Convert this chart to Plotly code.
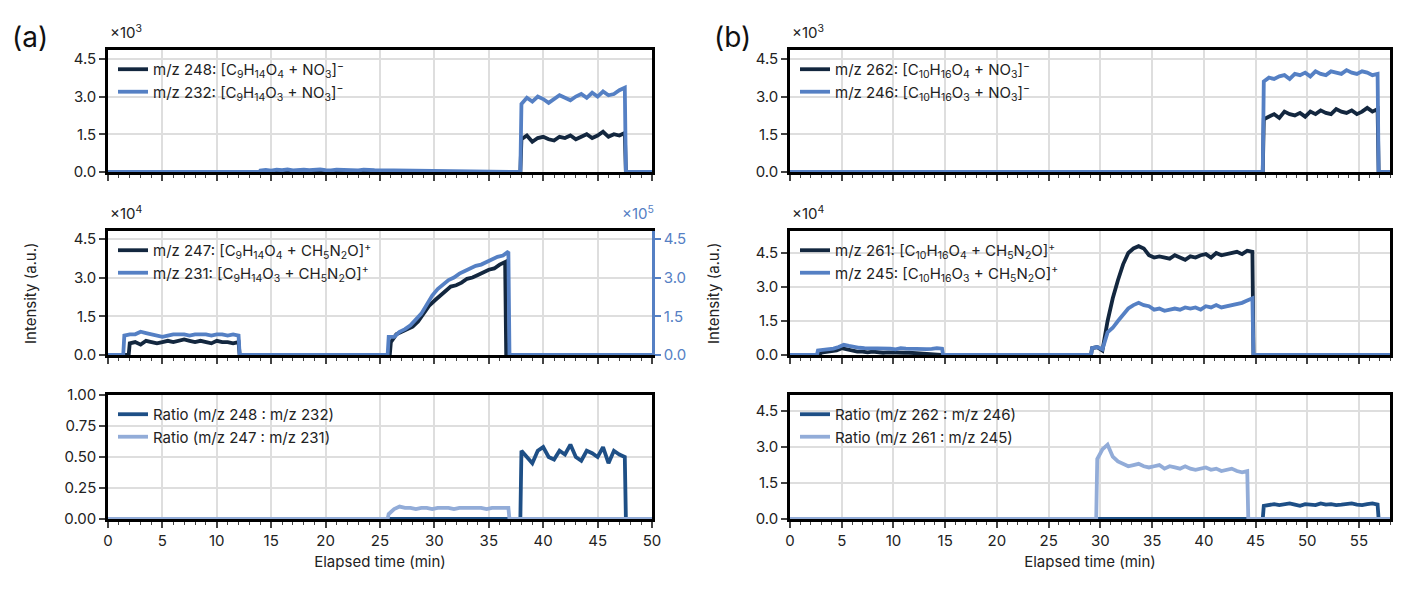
import numpy as np
import plotly.graph_objects as go

# ---------------- data ----------------
# (a) top: x10^3
a_top_dark_t0 = 38.0
a_top_dark = [1.3,1.45,1.2,1.35,1.4,1.3,1.25,1.4,1.35,1.45,1.3,1.4,1.5,1.35,1.45,1.6,1.4,1.5,1.45,1.55]
a_top_blue_t0 = 38.0
a_top_blue = [2.7,2.95,2.8,3.0,2.9,2.75,2.9,3.05,2.95,2.85,3.0,3.1,2.95,3.15,3.0,3.2,3.05,3.1,3.25,3.35]
a_top_blip_t0 = 14.0
a_top_blip = [0.06,0.08,0.05,0.09,0.07,0.1,0.06,0.08,0.09,0.07,0.08,0.1,0.07,0.06,0.09,0.08,0.07,0.08,0.06,0.09,0.08,0.07]

# (a) middle: dark x10^4 (left), blue x10^5 (right)
a_mid_dark_t0a = 2.0
a_mid_dark_a = [0.45,0.5,0.4,0.55,0.5,0.45,0.5,0.55,0.5,0.55,0.6,0.55,0.5,0.55,0.5,0.45,0.55,0.5,0.5,0.45,0.5]
a_mid_dark_t0b = 26.0
a_mid_dark_b = [0.5,0.8,0.9,1.0,1.1,1.3,1.6,1.9,2.1,2.3,2.5,2.65,2.7,2.8,2.95,3.0,3.1,3.2,3.3,3.35,3.5,3.6]
a_mid_blue_t0a = 1.5
a_mid_blue_a = [0.75,0.8,0.8,0.9,0.85,0.8,0.75,0.7,0.75,0.8,0.8,0.8,0.75,0.8,0.8,0.8,0.75,0.8,0.8,0.75,0.8,0.75]
a_mid_blue_t0b = 25.8
a_mid_blue_b = [0.7,0.7,0.9,1.0,1.15,1.35,1.6,1.95,2.3,2.55,2.75,2.9,3.0,3.15,3.25,3.35,3.45,3.5,3.6,3.7,3.8,3.85,4.0]

# (a) bottom: ratios
a_bot_light_t0 = 25.8
a_bot_light = [0.04,0.08,0.1,0.09,0.09,0.08,0.09,0.09,0.08,0.09,0.09,0.09,0.08,0.09,0.09,0.09,0.09,0.09,0.08,0.09,0.09,0.09,0.09]
a_bot_dark_t0 = 38.0
a_bot_dark = [0.55,0.5,0.45,0.55,0.58,0.5,0.48,0.55,0.52,0.6,0.5,0.47,0.55,0.53,0.5,0.58,0.45,0.55,0.52,0.5]

# (b) top: x10^3
b_top_dark_t0 = 45.8
b_top_dark = [2.1,2.2,2.3,2.15,2.4,2.3,2.25,2.35,2.2,2.4,2.3,2.45,2.35,2.3,2.5,2.4,2.35,2.45,2.3,2.4,2.55,2.4,2.5]
b_top_blue_t0 = 45.8
b_top_blue = [3.6,3.75,3.7,3.8,3.85,3.7,3.9,3.85,3.95,3.8,4.0,3.9,3.85,4.0,3.95,3.9,4.05,3.95,3.9,4.0,3.95,3.85,3.9]

# (b) middle: x10^4
b_mid_dark_t0a = 3.0
b_mid_dark_a = [0.1,0.12,0.15,0.2,0.3,0.25,0.2,0.15,0.15,0.12,0.15,0.12,0.1,0.12,0.1,0.12,0.1,0.1,0.08,0.1,0.05,0.03,0.02,0.02]
b_mid_dark_t0b = 29.2
b_mid_dark_b = [0.3,0.35,0.2,1.5,2.5,3.3,4.0,4.5,4.7,4.8,4.7,4.4,4.3,4.35,4.3,4.25,4.4,4.3,4.2,4.35,4.3,4.4,4.45,4.3,4.5,4.4,4.45,4.5,4.55,4.45,4.6,4.55]
b_mid_blue_t0a = 2.7
b_mid_blue_a = [0.2,0.22,0.25,0.28,0.35,0.45,0.4,0.35,0.32,0.3,0.3,0.28,0.3,0.27,0.28,0.25,0.3,0.28,0.27,0.25,0.28,0.26,0.27,0.3,0.28]
b_mid_blue_t0b = 29.2
b_mid_blue_b = [0.3,0.35,0.25,1.0,1.2,1.5,1.8,2.05,2.2,2.3,2.2,2.15,2.0,2.05,1.95,2.0,2.05,2.0,2.1,2.05,2.1,2.0,2.15,2.1,2.2,2.1,2.15,2.2,2.25,2.3,2.4,2.5]

# (b) bottom: ratios
b_bot_light_t0 = 29.7
b_bot_light = [2.5,2.9,3.1,2.6,2.4,2.3,2.2,2.25,2.3,2.2,2.15,2.2,2.25,2.1,2.2,2.15,2.1,2.2,2.1,2.05,2.1,2.15,2.05,2.1,2.0,2.05,2.1,2.0,1.95,2.0]
b_bot_dark_t0 = 45.8
b_bot_dark = [0.55,0.6,0.62,0.58,0.6,0.65,0.6,0.55,0.62,0.6,0.58,0.65,0.6,0.62,0.58,0.6,0.62,0.65,0.6,0.58,0.62,0.65,0.6]

STEP = 0.5
DARK = "#13273f"
BLUE = "#5580c4"
RDARK = "#1e4f86"
RLIGHT = "#92acd8"


def seg(t0, vals, xmax, step=STEP):
    t = list(t0 + step * np.arange(len(vals)))
    x = [0, t0 - 0.1] + t + [t[-1] + 0.1, xmax]
    y = [0, 0] + list(vals) + [0, 0]
    return x, y


def seg2(t0a, va, t0b, vb, xmax, step=STEP):
    ta = list(t0a + step * np.arange(len(va)))
    tb = list(t0b + step * np.arange(len(vb)))
    x = [0, t0a - 0.1] + ta + [ta[-1] + 0.1, t0b - 0.1] + tb + [tb[-1] + 0.1, xmax]
    y = [0, 0] + list(va) + [0, 0] + list(vb) + [0, 0]
    return x, y


fig = go.Figure()
LW = 3.8


def add(xy, color, name, xa, ya, legend):
    x, y = xy
    fig.add_trace(go.Scatter(x=x, y=y, mode="lines", name=name, line=dict(color=color, width=LW),
                             xaxis=xa, yaxis=ya, legend=legend))


XA, XB = 50, 58
add(seg(a_top_dark_t0, a_top_dark, XA), DARK, "m/z 248: [C<sub>9</sub>H<sub>14</sub>O<sub>4</sub> + NO<sub>3</sub>]<sup>−</sup>", "x", "y", "legend")
x1, y1 = seg(a_top_blue_t0, a_top_blue, XA)
xb, yb = seg(a_top_blip_t0, a_top_blip, XA)
add((xb[:-2] + x1[1:], yb[:-2] + y1[1:]), BLUE, "m/z 232: [C<sub>9</sub>H<sub>14</sub>O<sub>3</sub> + NO<sub>3</sub>]<sup>−</sup>", "x", "y", "legend")
add(seg2(a_mid_dark_t0a, a_mid_dark_a, a_mid_dark_t0b, a_mid_dark_b, XA), DARK, "m/z 247: [C<sub>9</sub>H<sub>14</sub>O<sub>4</sub> + CH<sub>5</sub>N<sub>2</sub>O]<sup>+</sup>", "x2", "y2", "legend2")
add(seg2(a_mid_blue_t0a, a_mid_blue_a, a_mid_blue_t0b, a_mid_blue_b, XA), BLUE, "m/z 231: [C<sub>9</sub>H<sub>14</sub>O<sub>3</sub> + CH<sub>5</sub>N<sub>2</sub>O]<sup>+</sup>", "x2", "y7", "legend2")
add(seg(a_bot_dark_t0, a_bot_dark, XA), RDARK, "Ratio (m/z 248 : m/z 232)", "x3", "y3", "legend3")
add(seg(a_bot_light_t0, a_bot_light, XA), RLIGHT, "Ratio (m/z 247 : m/z 231)", "x3", "y3", "legend3")
add(seg(b_top_dark_t0, b_top_dark, XB), DARK, "m/z 262: [C<sub>10</sub>H<sub>16</sub>O<sub>4</sub> + NO<sub>3</sub>]<sup>−</sup>", "x4", "y4", "legend4")
add(seg(b_top_blue_t0, b_top_blue, XB), BLUE, "m/z 246: [C<sub>10</sub>H<sub>16</sub>O<sub>3</sub> + NO<sub>3</sub>]<sup>−</sup>", "x4", "y4", "legend4")
add(seg2(b_mid_dark_t0a, b_mid_dark_a, b_mid_dark_t0b, b_mid_dark_b, XB), DARK, "m/z 261: [C<sub>10</sub>H<sub>16</sub>O<sub>4</sub> + CH<sub>5</sub>N<sub>2</sub>O]<sup>+</sup>", "x5", "y5", "legend5")
add(seg2(b_mid_blue_t0a, b_mid_blue_a, b_mid_blue_t0b, b_mid_blue_b, XB), BLUE, "m/z 245: [C<sub>10</sub>H<sub>16</sub>O<sub>3</sub> + CH<sub>5</sub>N<sub>2</sub>O]<sup>+</sup>", "x5", "y5", "legend5")
add(seg(b_bot_dark_t0, b_bot_dark, XB), RDARK, "Ratio (m/z 262 : m/z 246)", "x6", "y6", "legend6")
add(seg(b_bot_light_t0, b_bot_light, XB), RLIGHT, "Ratio (m/z 261 : m/z 245)", "x6", "y6", "legend6")

W, H = 1406, 594
OFF = 8  # page offset


def px(v):
    return (v - OFF) / W


def py(v):
    return 1 - (v - OFF) / H


dxa = [px(108), px(652)]
dxb = [px(790), px(1390)]
rows = [[py(172), py(50)], [py(355), py(231)], [py(519), py(395)]]
FONT = dict(family="Inter, Open Sans, sans-serif", size=15, color="#222")
grid = "#dedede"


def xax(dom, anchor, rng, dtick, labels):
    return dict(domain=dom, anchor=anchor, range=rng, dtick=dtick, tick0=0, showgrid=True, gridcolor=grid, gridwidth=1.5,
                showline=True, linecolor="black", linewidth=2.5, mirror=True, ticks="outside", ticklen=6, tickwidth=1.5,
                minor=dict(dtick=1, ticks="outside", ticklen=3, tickwidth=1.2, showgrid=False),
                showticklabels=labels, zeroline=False, automargin=False,
                title=dict(text="Elapsed time (min)" if labels else "", standoff=8, font=dict(size=15)))


def yax(dom, anchor, rng, vals, texts, **kw):
    d = dict(domain=dom, anchor=anchor, range=rng, tickvals=vals, ticktext=texts, showgrid=True, gridcolor=grid, gridwidth=1.5,
             showline=True, linecolor="black", linewidth=2.5, mirror=True, ticks="outside", ticklen=6, tickwidth=1.5,
             zeroline=False, automargin=False)
    d.update(kw)
    return d


t45 = [0, 1.5, 3, 4.5]
t45s = ["0.0", "1.5", "3.0", "4.5"]
layout = dict(
    width=W, height=H, margin=dict(l=0, r=0, t=0, b=0), plot_bgcolor="white", paper_bgcolor="white", font=FONT,
    xaxis=xax(dxa, "y", [0, XA], 5, False),
    xaxis2=xax(dxa, "y2", [0, XA], 5, False),
    xaxis3=xax(dxa, "y3", [0, XA], 5, True),
    xaxis4=xax(dxb, "y4", [0, XB], 5, False),
    xaxis5=xax(dxb, "y5", [0, XB], 5, False),
    xaxis6=xax(dxb, "y6", [0, XB], 5, True),
    yaxis=yax(rows[0], "x", [0, 4.85], t45, t45s),
    yaxis2=yax(rows[1], "x2", [0, 4.8], t45, t45s, mirror=False),
    yaxis3=yax(rows[2], "x3", [0, 1.0], [0, 0.25, 0.5, 0.75, 1.0], ["0.00", "0.25", "0.50", "0.75", "1.00"]),
    yaxis4=yax(rows[0], "x4", [0, 4.85], t45, t45s),
    yaxis5=yax(rows[1], "x5", [0, 5.47], t45, t45s),
    yaxis6=yax(rows[2], "x6", [0, 5.17], t45, t45s),
    yaxis7=dict(overlaying="y2", anchor="x2", side="right", range=[0, 4.8], tickvals=t45, ticktext=t45s,
                showgrid=False, showline=True, linecolor=BLUE, linewidth=2.5, ticks="outside", ticklen=6, tickwidth=1.5,
                tickcolor=BLUE, tickfont=dict(color=BLUE), zeroline=False, automargin=False),
    showlegend=True,
)

lg = dict(bgcolor="rgba(0,0,0,0)", font=dict(size=15, color="#222"), tracegroupgap=0, itemwidth=30,
          xanchor="left", yanchor="top", xref="paper", yref="paper")
pos = {"legend": (px(113), rows[0][1] - 0.005), "legend2": (px(113), rows[1][1] - 0.005), "legend3": (px(113), rows[2][1] - 0.005),
       "legend4": (px(795), rows[0][1] - 0.005), "legend5": (px(795), rows[1][1] - 0.005), "legend6": (px(795), rows[2][1] - 0.005)}
for k, (x, y) in pos.items():
    layout[k] = dict(lg, x=x, y=y)
fig.update_layout(**layout)

ann = [
    dict(text="(a)", x=px(10), y=py(37), font=dict(size=28, color="#111")),
    dict(text="(b)", x=px(712), y=py(37), font=dict(size=28, color="#111")),
    dict(text="×10<sup>3</sup>", x=px(108), y=py(32), font=dict(size=15)),
    dict(text="×10<sup>4</sup>", x=px(108), y=py(213), font=dict(size=15)),
    dict(text="×10<sup>5</sup>", x=px(656), y=py(213), font=dict(size=15, color=BLUE), xanchor="right"),
    dict(text="×10<sup>3</sup>", x=px(790), y=py(32), font=dict(size=15)),
    dict(text="×10<sup>4</sup>", x=px(790), y=py(213), font=dict(size=15)),
    dict(text="Intensity (a.u.)", x=px(30), y=py(293), textangle=-90, font=dict(size=15), xanchor="center"),
    dict(text="Intensity (a.u.)", x=px(713), y=py(293), textangle=-90, font=dict(size=15), xanchor="center"),
]
for a in ann:
    a.setdefault("xanchor", "left")
    fig.add_annotation(xref="paper", yref="paper", showarrow=False, yanchor="middle", **a)

fig.write_html("out.html")
